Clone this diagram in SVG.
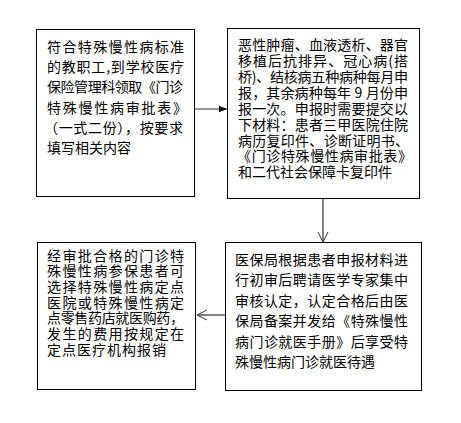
<svg xmlns="http://www.w3.org/2000/svg" width="461" height="423" viewBox="0 0 461 423">
<style>
.box{fill:#fff;stroke:#000;stroke-width:1}
.t{font-family:"Noto Sans CJK SC","Noto Sans CJK JP",sans-serif;font-size:14px;fill:#000}
.c{stroke:#333;stroke-width:1.2;fill:none}
</style>
<defs>
<marker id="filled" viewBox="0 0 10 10" refX="10" refY="5" markerWidth="8" markerHeight="8" markerUnits="userSpaceOnUse" orient="auto"><path d="M0,1 L10,5 L0,9 Z" fill="#000"/></marker>
<marker id="open" viewBox="0 0 12 12" refX="11" refY="6" markerWidth="12" markerHeight="12" markerUnits="userSpaceOnUse" orient="auto"><path d="M1,1 L11,6 L1,11" fill="none" stroke="#333" stroke-width="1"/></marker>
</defs>
<rect width="461" height="423" fill="#fff"/>
<g id="connectors">
<line class="c" x1="194.5" y1="109" x2="227" y2="109" marker-end="url(#filled)"/>
<line class="c" x1="323" y1="198" x2="323" y2="242" marker-end="url(#open)"/>
<line class="c" x1="225" y1="315" x2="197" y2="315" marker-end="url(#open)"/>
</g>
<g id="node1">
<rect class="box" x="36.5" y="29.5" width="158" height="167"/>
<text class="t" x="47" y="52" textLength="137" lengthAdjust="spacing">符合特殊慢性病标准</text>
<text class="t" x="47" y="72" textLength="137" lengthAdjust="spacing">的教职工,到学校医疗</text>
<text class="t" x="47" y="92" textLength="136" lengthAdjust="spacing">保险管理科领取《门诊</text>
<text class="t" x="47" y="112.5" textLength="140" lengthAdjust="spacing">特殊慢性病审批表》</text>
<text class="t" x="44" y="132.5" textLength="139" lengthAdjust="spacing">（一式二份），按要求</text>
<text class="t" x="47" y="153">填写相关内容</text>
</g>
<g id="node2">
<rect class="box" x="227.5" y="28.5" width="192" height="170"/>
<text class="t" x="238" y="50" textLength="170" lengthAdjust="spacing">恶性肿瘤、血液透析、器官</text>
<text class="t" x="238" y="66" textLength="170" lengthAdjust="spacing">移植后抗排异、冠心病(搭</text>
<text class="t" x="238" y="81.5" textLength="170" lengthAdjust="spacing">桥)、结核病五种病种每月申</text>
<text class="t" x="238" y="97.5" textLength="170" lengthAdjust="spacing">报，其余病种每年 9 月份申</text>
<text class="t" x="238" y="113.5" textLength="170" lengthAdjust="spacing">报一次。申报时需要提交以</text>
<text class="t" x="238" y="129.5" textLength="170" lengthAdjust="spacing">下材料：患者三甲医院住院</text>
<text class="t" x="238" y="145.5" textLength="171" lengthAdjust="spacing">病历复印件、诊断证明书、</text>
<text class="t" x="237" y="161" textLength="175" lengthAdjust="spacing">《门诊特殊慢性病审批表》</text>
<text class="t" x="238" y="177">和二代社会保障卡复印件</text>
</g>
<g id="node3">
<rect class="box" x="225.5" y="242.5" width="196" height="148"/>
<text class="t" x="235" y="265" textLength="173" lengthAdjust="spacing">医保局根据患者申报材料进</text>
<text class="t" x="235" y="285" textLength="173" lengthAdjust="spacing">行初审后聘请医学专家集中</text>
<text class="t" x="235" y="305.5" textLength="173" lengthAdjust="spacing">审核认定，认定合格后由医</text>
<text class="t" x="235" y="326" textLength="173" lengthAdjust="spacing">保局备案并发给《特殊慢性</text>
<text class="t" x="235" y="346.5" textLength="173" lengthAdjust="spacing">病门诊就医手册》后享受特</text>
<text class="t" x="235" y="367">殊慢性病门诊就医待遇</text>
</g>
<g id="node4">
<rect class="box" x="37.5" y="242.5" width="158" height="147"/>
<text class="t" x="47" y="260.5" textLength="137" lengthAdjust="spacing">经审批合格的门诊特</text>
<text class="t" x="47" y="276" textLength="137" lengthAdjust="spacing">殊慢性病参保患者可</text>
<text class="t" x="47" y="292" textLength="137" lengthAdjust="spacing">选择特殊慢性病定点</text>
<text class="t" x="47" y="308" textLength="137" lengthAdjust="spacing">医院或特殊慢性病定</text>
<text class="t" x="47" y="323" textLength="137" lengthAdjust="spacing">点零售药店就医购药，</text>
<text class="t" x="47" y="339" textLength="137" lengthAdjust="spacing">发生的费用按规定在</text>
<text class="t" x="47" y="355" textLength="119" lengthAdjust="spacing">定点医疗机构报销</text>
</g>
</svg>
